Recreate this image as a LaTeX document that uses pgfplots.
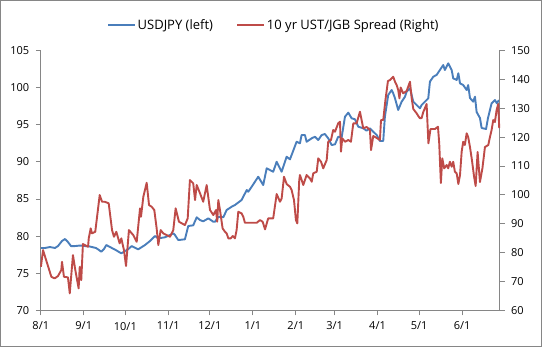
\documentclass[border=0pt]{standalone}
\usepackage{fontspec}
\setmainfont{Open Sans}
\usepackage{pgfplots}
\pgfplotsset{compat=1.18}
\definecolor{xlblue}{HTML}{4A7EBB}
\definecolor{xlred}{HTML}{BE4B48}
\definecolor{axgray}{HTML}{868686}
\newcommand{\tickfont}{\fontsize{11}{13}\selectfont}
\newcommand{\legfont}{\fontsize{13}{15}\selectfont}
\begin{document}
\begin{tikzpicture}[x=1pt,y=1pt]
\draw[axgray, line width=0.8pt] (0.4,0.4) rectangle (541.6,346.6);
\pgfplotsset{
  common/.style={
    scale only axis, width=458.7pt, height=260.1pt,
    at={(40.8pt,36.5pt)}, anchor=south west,
    xmin=0, xmax=331,
    tick align=outside, major tick length=5pt,
    every tick/.style={axgray, line width=0.8pt},
    axis line style={axgray, line width=0.8pt},
    tick label style={font=\tickfont, text=black},
    /pgf/number format/assume math mode=true,
    clip=false,
  }
}
\begin{axis}[common,
  axis y line*=left, axis x line*=bottom,
  ymin=70, ymax=105, ytick={70,75,80,85,90,95,100,105},
  xtick={0,31,61,92,122,153,184,212,243,273,304},
  xticklabels={8/1,9/1,10/1,11/1,12/1,1/1,2/1,3/1,4/1,5/1,6/1},
  xticklabel style={yshift=-3pt},
  yticklabel style={xshift=-3pt},
  legend style={at={(0.5075,1.0965)}, anchor=center, draw=none, fill=none,
    font=\legfont, text=black, legend columns=2,
    inner sep=0pt, outer sep=0pt,
    nodes={inner sep=1.5pt},
    /tikz/every even column/.append style={column sep=22pt}},
  legend image code/.code={\draw[#1] (0pt,0pt) -- (27pt,0pt);},
  legend cell align=left,
]
\addlegendimage{xlblue, line width=2pt}
\addlegendentry{USDJPY (left)}
\addlegendimage{xlred, line width=2pt}
\addlegendentry{10 yr UST/JGB Spread (Right)}
\addplot[xlblue, line width=1.9pt, line join=round, forget plot] table {
0 78.41
3.0 78.41
6.6 78.54
10.2 78.41
12.4 78.67
15.3 79.35
17.5 79.62
19.6 79.21
21.8 78.67
24.7 78.67
28.3 78.74
31.9 78.67
34.1 78.67
36.9 78.54
39.8 78.41
42.0 78.14
43.6 77.91
45.6 78.27
47.3 78.81
49.9 78.54
53.5 78.2
58.1 77.69
60.8 78.0
62.9 78.23
65.6 78.67
70.3 78.23
75.2 78.81
78.8 79.35
82.4 80.02
84.8 79.71
89.6 79.85
93.2 80.16
95.6 80.38
96.8 80.16
99.2 79.48
104.0 79.58
106.4 81.37
110.0 81.46
112.5 82.54
114.9 82.17
117.2 82.0
120.9 82.40
124.5 81.94
125.7 81.94
128.1 82.62
131.7 82.54
134.1 83.52
137.7 83.96
140.1 84.19
144.9 84.87
148.6 86.21
149.7 85.98
152.2 86.66
156.9 88.0
160.5 86.88
163.0 89.13
167.7 88.67
170.2 90.02
173.8 88.67
177.4 90.69
179.8 90.34
184.6 92.71
187.0 92.50
188.2 93.61
190.6 93.61
191.8 92.71
195.5 93.17
197.8 93.38
200.2 92.94
202.7 93.61
205.0 93.75
207.4 93.17
209.9 92.27
212.3 92.36
214.6 93.38
217.1 93.30
219.5 96.08
221.9 96.62
224.3 95.86
226.7 95.73
229.1 94.73
232.7 94.52
235.1 94.19
237.5 94.52
239.9 94.06
242.4 93.61
244.7 92.81
247.1 92.81
248.3 96.08
250.7 99.0
253.2 99.67
254.3 99.23
255.6 98.55
257.9 96.98
260.4 98.10
262.8 98.77
264.0 99.44
266.4 99.90
268.8 98.10
271.2 97.65
273.6 97.21
274.8 97.65
277.2 98.10
279.6 98.55
280.8 100.79
283.2 101.46
285.6 101.69
288.0 102.36
290.4 103.03
291.6 102.36
294.0 103.26
296.5 102.36
297.6 101.24
300.1 101.02
301.3 101.92
302.5 100.57
304.8 100.34
307.3 99.67
308.4 100.34
309.7 98.59
312.0 98.10
313.3 98.77
314.5 96.71
316.9 95.90
318.1 94.56
321.3 94.42
322.7 95.90
325.3 97.88
327.7 98.32
329.1 97.88
330.6 98.32
};
\end{axis}
\begin{axis}[common,
  axis y line*=right, axis x line=none,
  ymin=60, ymax=150, ytick={60,70,...,150},
  yticklabel style={xshift=3pt},
]
\addplot[xlred, line width=1.9pt, line join=round] table {
0.1 75.13
1.6 80.91
7.6 71.67
10.0 71.11
12.4 71.91
14.8 73.99
15.3 76.86
16.7 71.67
19.6 71.46
20.9 65.92
23.2 79.18
24.9 73.99
27.3 67.65
28.1 75.13
29.2 70.53
30.4 82.99
34.1 82.05
34.6 84.96
36.0 88.42
36.9 86.69
39.3 87.24
42.5 99.95
44.2 97.63
46.1 97.63
49.0 97.08
51.4 87.83
52.8 85.51
54.5 87.24
56.9 83.23
58.1 84.96
60.0 80.9
61.5 75.4
63.6 87.83
66.7 86.1
69.2 83.78
71.6 95.34
72.3 92.44
74.0 99.36
76.4 104.21
78.1 96.49
80.0 95.9
81.9 94.76
83.6 88.42
84.8 82.64
86.5 87.83
88.4 86.69
90.8 86.1
93.2 85.51
95.6 87.83
97.3 95.34
99.7 90.71
104.0 89.56
106.0 91.88
107.6 105.14
110.0 104.0
111.3 98.22
112.5 103.41
114.9 100.54
117.2 97.63
119.7 103.41
122.1 94.76
124.5 93.03
126.4 94.76
127.3 90.71
128.1 98.22
129.3 94.76
131.2 88.42
132.9 87.24
134.1 86.69
135.3 84.96
137.0 84.96
138.5 85.76
140.1 84.96
141.3 87.83
142.5 94.17
144.9 93.61
146.1 92.44
147.3 90.36
152.2 90.36
155.8 90.36
158.2 91.29
160.1 90.71
161.8 88.08
164.1 91.88
167.7 91.88
170.2 100.29
172.6 97.63
173.8 98.81
175.5 106.28
177.4 103.76
179.8 102.82
181.0 101.68
182.7 98.22
184.1 91.29
185.1 90.15
186.5 105.14
187.0 106.87
189.4 103.41
191.8 106.87
194.2 105.73
195.5 104.55
196.6 107.46
199.1 108.01
200.2 112.65
202.2 111.47
203.8 109.19
206.3 112.06
207.4 118.4
209.4 118.99
211.0 122.45
212.3 121.86
214.6 124.77
215.9 125.32
216.6 114.94
217.5 119.57
219.5 118.4
221.9 118.99
223.8 118.4
225.5 124.77
227.9 124.77
230.3 128.78
232.7 123.04
235.1 123.5
237.5 122.45
238.3 115.52
239.9 120.37
242.4 119.7
244.7 118.99
245.5 125.91
247.1 125.91
248.7 132.83
250.5 139.41
252.0 139.75
253.4 140.45
254.3 140.9
255.6 139.17
256.8 138.0
257.9 136.3
258.8 133.42
259.7 137.16
261.5 135.15
264.0 135.95
266.4 139.17
267.6 133.52
268.8 129.72
271.2 128.23
272.4 127.3
273.6 126.5
274.8 126.6
276.0 128.68
278.4 131.45
279.7 117.84
281.2 122.79
284.4 122.79
286.6 123.59
287.5 117.84
288.7 104.1
289.7 112.65
291.1 109.19
292.9 110.33
294.0 109.19
295.2 111.47
296.5 109.74
297.6 111.47
298.8 108.01
300.1 107.46
301.3 103.76
302.5 106.87
303.7 114.94
304.8 118.4
306.0 117.26
307.3 121.3
308.4 120.02
309.7 116.56
311.1 112.06
312.6 106.52
313.8 103.06
315.2 114.83
316.9 104.45
318.7 109.29
320.5 116.56
322.9 117.26
324.1 120.02
325.3 122.45
326.5 125.91
327.7 125.22
328.9 129.37
330.1 131.45
330.8 123.14
};
\end{axis}
\end{tikzpicture}
\end{document}
